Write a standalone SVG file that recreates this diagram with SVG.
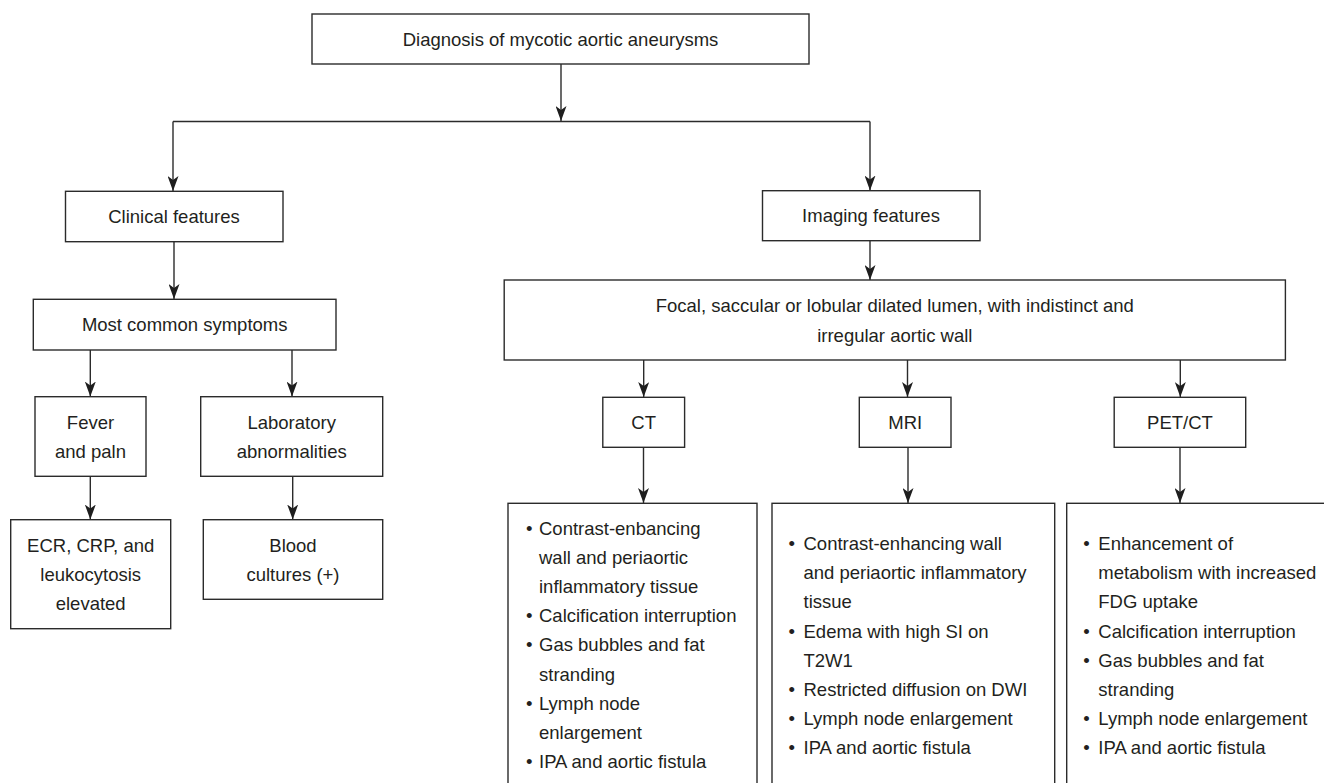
<svg xmlns="http://www.w3.org/2000/svg" width="1324" height="783" viewBox="0 0 1324 783">
<defs>
<style>
.box{fill:#fff;stroke:#2b2b2b;stroke-width:1.4}
.t{font-family:"Liberation Sans",Arial,Helvetica,sans-serif;font-size:18.5px;fill:#231f20}
.c{text-anchor:middle}
.ln{fill:none;stroke:#2b2b2b;stroke-width:1.4}
</style>
<marker id="ah" markerUnits="userSpaceOnUse" viewBox="0 0 15 11" refX="15" refY="5.5" markerWidth="15" markerHeight="11" orient="auto">
<path d="M0,0 L15,5.5 L0,11 L4,5.5 Z" fill="#1e1e1e"/>
</marker>
</defs>
<rect width="1324" height="783" fill="#fff"/>
<g id="connectors">
<path class="ln" d="M561,64 V121" marker-end="url(#ah)"/>
<path class="ln" d="M173,121.5 H870"/>
<path class="ln" d="M173,121.5 V191" marker-end="url(#ah)"/>
<path class="ln" d="M870,121.5 V190.5" marker-end="url(#ah)"/>
<path class="ln" d="M174,241.7 V299" marker-end="url(#ah)"/>
<path class="ln" d="M90.3,350 V396.5" marker-end="url(#ah)"/>
<path class="ln" d="M292,350 V396.5" marker-end="url(#ah)"/>
<path class="ln" d="M90.3,476.3 V519.5" marker-end="url(#ah)"/>
<path class="ln" d="M292.7,476.3 V519.5" marker-end="url(#ah)"/>
<path class="ln" d="M870,240.7 V280" marker-end="url(#ah)"/>
<path class="ln" d="M643.7,360 V397" marker-end="url(#ah)"/>
<path class="ln" d="M907.5,360 V397" marker-end="url(#ah)"/>
<path class="ln" d="M1180.3,360 V397" marker-end="url(#ah)"/>
<path class="ln" d="M643.5,447.3 V503" marker-end="url(#ah)"/>
<path class="ln" d="M908,447.3 V503" marker-end="url(#ah)"/>
<path class="ln" d="M1180,447.3 V503" marker-end="url(#ah)"/>
</g>
<g id="n-diagnosis">
<rect class="box" x="312" y="14" width="497" height="50"/>
<text class="t c" x="560.5" y="45.5">Diagnosis of mycotic aortic aneurysms</text>
</g>
<g id="n-clinical">
<rect class="box" x="65.5" y="191.3" width="217.5" height="50.4"/>
<text class="t c" x="174" y="222.7">Clinical features</text>
</g>
<g id="n-common">
<rect class="box" x="33.3" y="299.3" width="302.7" height="50.7"/>
<text class="t c" x="184.7" y="331.3">Most common symptoms</text>
</g>
<g id="n-fever">
<rect class="box" x="35" y="396.7" width="111" height="79.6"/>
<text class="t c" x="90.5" y="429.3">Fever</text>
<text class="t c" x="90.5" y="458.3">and paln</text>
</g>
<g id="n-lab">
<rect class="box" x="200.7" y="396.7" width="182" height="79.6"/>
<text class="t c" x="291.7" y="429.3">Laboratory</text>
<text class="t c" x="291.7" y="458.3">abnormalities</text>
</g>
<g id="n-ecr">
<rect class="box" x="10.7" y="519.7" width="160" height="109"/>
<text class="t c" x="90.7" y="551.7">ECR, CRP, and</text>
<text class="t c" x="90.7" y="580.7">leukocytosis</text>
<text class="t c" x="90.7" y="609.7">elevated</text>
</g>
<g id="n-blood">
<rect class="box" x="203.3" y="519.7" width="179.4" height="79.6"/>
<text class="t c" x="293" y="551.7">Blood</text>
<text class="t c" x="293" y="580.7">cultures (+)</text>
</g>
<g id="n-imaging">
<rect class="box" x="762.5" y="190.7" width="217.5" height="50"/>
<text class="t c" x="871" y="221.7">Imaging features</text>
</g>
<g id="n-focal">
<rect class="box" x="504.2" y="280" width="781.2" height="80"/>
<text class="t c" x="894.8" y="311.7">Focal, saccular or lobular dilated lumen, with indistinct and</text>
<text class="t c" x="894.8" y="341.7">irregular aortic wall</text>
</g>
<g id="n-ct">
<rect class="box" x="602.8" y="397.3" width="81.8" height="50"/>
<text class="t c" x="643.7" y="428.8">CT</text>
</g>
<g id="n-mri">
<rect class="box" x="859.3" y="397.3" width="91.7" height="50"/>
<text class="t c" x="905.2" y="428.8">MRI</text>
</g>
<g id="n-pet">
<rect class="box" x="1114.2" y="397.3" width="131.5" height="50"/>
<text class="t c" x="1180" y="428.8">PET/CT</text>
</g>
<g id="n-ct-list">
<rect class="box" x="508" y="503.3" width="249" height="300"/>
<text class="t" y="534.5"><tspan x="526">•</tspan><tspan x="539">Contrast-enbancing</tspan></text>
<text class="t" x="539" y="563.7">wall and periaortic</text>
<text class="t" x="539" y="592.9">inflammatory tissue</text>
<text class="t" y="622.1"><tspan x="526">•</tspan><tspan x="539">Calcification interruption</tspan></text>
<text class="t" y="651.3"><tspan x="526">•</tspan><tspan x="539">Gas bubbles and fat</tspan></text>
<text class="t" x="539" y="680.5">stranding</text>
<text class="t" y="709.7"><tspan x="526">•</tspan><tspan x="539">Lymph node</tspan></text>
<text class="t" x="539" y="738.9">enlargement</text>
<text class="t" y="768.1"><tspan x="526">•</tspan><tspan x="539">IPA and aortic fistula</tspan></text>
</g>
<g id="n-mri-list">
<rect class="box" x="772" y="503.3" width="282.7" height="300"/>
<text class="t" y="550"><tspan x="788.5">•</tspan><tspan x="803.5">Contrast-enhancing wall</tspan></text>
<text class="t" x="803.5" y="579.2">and periaortic inflammatory</text>
<text class="t" x="803.5" y="608.4">tissue</text>
<text class="t" y="637.6"><tspan x="788.5">•</tspan><tspan x="803.5">Edema with high SI on</tspan></text>
<text class="t" x="803.5" y="666.8">T2W1</text>
<text class="t" y="696"><tspan x="788.5">•</tspan><tspan x="803.5">Restricted diffusion on DWI</tspan></text>
<text class="t" y="725.2"><tspan x="788.5">•</tspan><tspan x="803.5">Lymph node enlargement</tspan></text>
<text class="t" y="754.4"><tspan x="788.5">•</tspan><tspan x="803.5">IPA and aortic fistula</tspan></text>
</g>
<g id="n-pet-list">
<rect class="box" x="1066.7" y="503.3" width="300" height="300"/>
<text class="t" y="550"><tspan x="1083.2">•</tspan><tspan x="1098.3">Enhancement of</tspan></text>
<text class="t" x="1098.3" y="579.2">metabolism with increased</text>
<text class="t" x="1098.3" y="608.4">FDG uptake</text>
<text class="t" y="637.6"><tspan x="1083.2">•</tspan><tspan x="1098.3">Calcification interruption</tspan></text>
<text class="t" y="666.8"><tspan x="1083.2">•</tspan><tspan x="1098.3">Gas bubbles and fat</tspan></text>
<text class="t" x="1098.3" y="696">stranding</text>
<text class="t" y="725.2"><tspan x="1083.2">•</tspan><tspan x="1098.3">Lymph node enlargement</tspan></text>
<text class="t" y="754.4"><tspan x="1083.2">•</tspan><tspan x="1098.3">IPA and aortic fistula</tspan></text>
</g>
</svg>
